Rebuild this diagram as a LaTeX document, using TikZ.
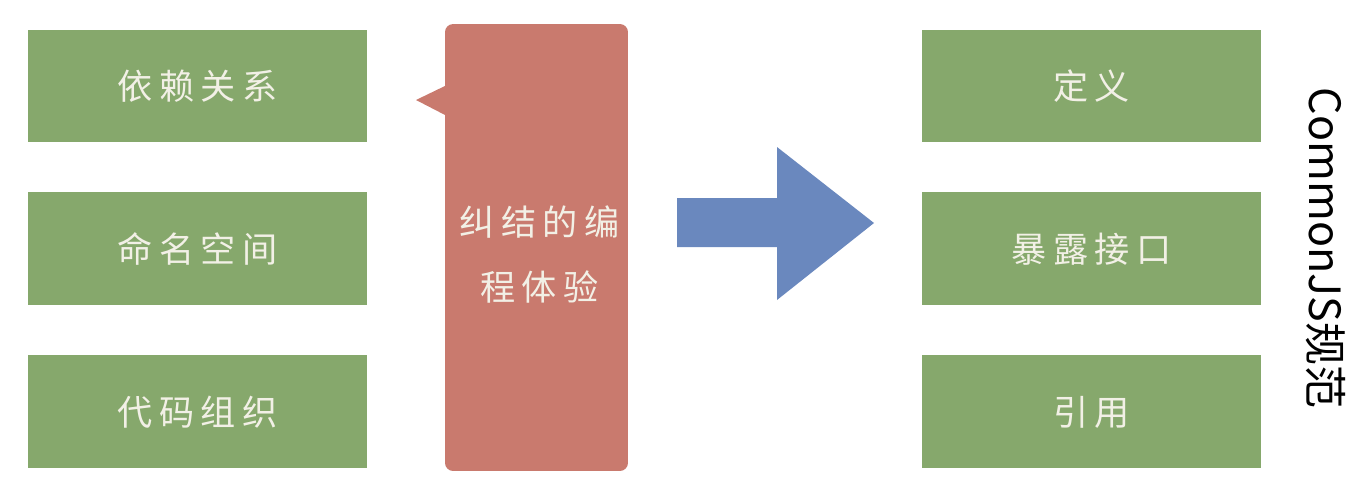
\documentclass[tikz,border=0pt]{standalone}
\usepackage{fontspec}
\newfontfamily\cjkwide[LetterSpace=18]{Noto Sans CJK SC}
\newfontfamily\cjkplain{Noto Sans CJK SC}
\usetikzlibrary{shapes.geometric, arrows}
\definecolor{boxGreen}{RGB}{134,168,108}
\definecolor{calloutRed}{RGB}{201,122,110}
\definecolor{arrowBlue}{RGB}{106,136,190}
\definecolor{chalk}{RGB}{242,240,230}
\tikzstyle{greenBox} = [shape=rectangle, fill=boxGreen, text=chalk,
	minimum width=6.78cm, minimum height=2.26cm, inner sep=0pt,
	font=\cjkwide\fontsize{20}{24}\selectfont]
\tikzstyle{redCallout} = [shape=rectangle, fill=calloutRed,
	rounded corners=0.16cm, minimum width=3.66cm, minimum height=8.94cm,
	inner sep=0pt]
\tikzstyle{redText} = [text=chalk, align=center,
	font=\cjkwide\fontsize{20}{37}\selectfont]

\begin{document}
\begin{tikzpicture}[x=0.02cm, y=-0.02cm, node distance=3.26cm]
  \useasboundingbox (0,0) rectangle (1362,487);

  \node (DEPS) [greenBox] at (197.5,86) {依赖关系};
  \node (NAMES) [greenBox, below of=DEPS] {命名空间};
  \node (ORG) [greenBox, below of=NAMES] {代码组织};

  \node (TANGLE) [redCallout] at (536.5,247.5) {};
  \node (TANGLETXT) [redText] at (539.5,254.5) {纠结的编\\程体验};
  \fill [calloutRed] (447,85) -- (416,100) -- (447,116) -- cycle;

  \fill [arrowBlue] (677,198) -- (777,198) -- (777,147) -- (874,223)
    -- (777,300) -- (777,247) -- (677,247) -- cycle;

  \node (DEF) [greenBox] at (1091.5,86) {定义};
  \node (EXPO) [greenBox, below of=DEF] {暴露接口};
  \node (REF) [greenBox, below of=EXPO] {引用};

  \node (SPEC) [rotate=-90, font=\cjkplain\fontsize{24.5}{28}\selectfont]
    at (1326,248) {CommonJS规范};

\end{tikzpicture}
\end{document}
